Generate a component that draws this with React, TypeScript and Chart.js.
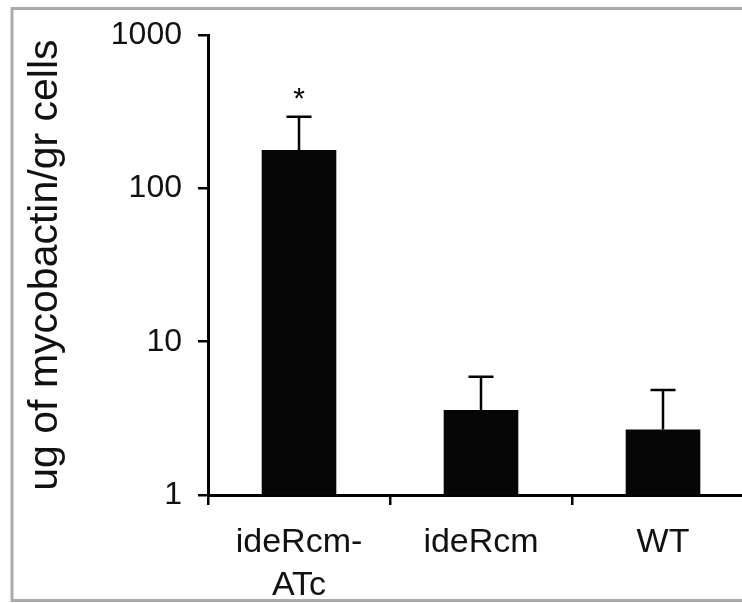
import React, { useEffect, useRef } from "react";
import { Chart, registerables } from "chart.js";

Chart.register(...registerables);

const categories: (string | string[])[] = [["ideRcm-", "ATc"], "ideRcm", "WT"];
const meanValues = [178, 3.58, 2.68];
const errorUpper = [294, 5.9, 4.84];
const significance = ["*", "", ""];
const yTickValues = [1, 10, 100, 1000];
const yTitle = "ug of mycobactin/gr cells";

const FONT = "'Liberation Sans', Arial, Helvetica, sans-serif";

const errorBarPlugin = {
  id: "errorBars",
  afterDatasetsDraw(chart: any) {
    const meta = chart.getDatasetMeta(0);
    const yScale = chart.scales.y;
    const ctx = chart.ctx;
    ctx.save();
    ctx.strokeStyle = "#000";
    ctx.lineWidth = 2.5;
    meta.data.forEach((bar: any, i: number) => {
      const x = bar.x;
      const yTop = yScale.getPixelForValue(errorUpper[i]);
      const yBase = bar.y;
      ctx.beginPath();
      ctx.moveTo(x, yBase);
      ctx.lineTo(x, yTop);
      ctx.moveTo(x - 12.5, yTop);
      ctx.lineTo(x + 12.5, yTop);
      ctx.stroke();
      if (significance[i]) {
        ctx.fillStyle = "#000";
        ctx.font = `30px ${FONT}`;
        ctx.textAlign = "center";
        ctx.textBaseline = "alphabetic";
        ctx.fillText(significance[i], x, yTop - 9);
      }
    });
    ctx.restore();
  },
};

const framePlugin = {
  id: "frame",
  beforeDraw(chart: any) {
    const ctx = chart.ctx;
    ctx.save();
    ctx.fillStyle = "#fff";
    ctx.fillRect(0, 0, chart.width, chart.height);
    ctx.restore();
  },
  afterDraw(chart: any) {
    const ctx = chart.ctx;
    ctx.save();
    ctx.strokeStyle = "#ababab";
    ctx.lineWidth = 3;
    ctx.strokeRect(12, 8.5, 900, 592);
    ctx.restore();
  },
};

export default function App() {
  const canvasRef = useRef<HTMLCanvasElement | null>(null);

  useEffect(() => {
    if (!canvasRef.current) return;
    const chart = new Chart(canvasRef.current, {
      type: "bar",
      data: {
        labels: categories,
        datasets: [
          {
            data: meanValues,
            backgroundColor: "#050505",
            borderWidth: 0,
            barPercentage: 0.41,
            categoryPercentage: 1,
          },
        ],
      },
      options: {
        responsive: false,
        animation: false,
        devicePixelRatio: 1,
        layout: { padding: { left: 21, top: 35, right: 8, bottom: 0 } },
        plugins: {
          legend: { display: false },
          tooltip: { enabled: false },
        },
        scales: {
          x: {
            type: "category",
            offset: true,
            grid: {
              offset: true,
              drawOnChartArea: false,
              drawTicks: true,
              tickLength: 10,
              color: "#000",
              lineWidth: 2.5,
            },
            border: { display: true, color: "#000", width: 3 },
            ticks: {
              color: "#111",
              font: { family: FONT, size: 34, lineHeight: 1.26 },
              padding: 16,
              maxRotation: 0,
              autoSkip: false,
            },
            afterFit(scale: any) {
              scale.height = 108;
            },
          },
          y: {
            type: "logarithmic",
            min: 1,
            max: 1000,
            grid: {
              drawOnChartArea: false,
              drawTicks: true,
              tickLength: 10,
              color: "#000",
              lineWidth: 2.5,
            },
            border: { display: true, color: "#000", width: 3 },
            ticks: {
              color: "#111",
              font: { family: FONT, size: 32 },
              padding: 16,
              callback: (v: any) => String(v),
            },
            afterBuildTicks(scale: any) {
              scale.ticks = yTickValues.map((v) => ({ value: v }));
            },
            afterFit(scale: any) {
              scale.width = 187;
            },
            title: {
              display: true,
              text: yTitle,
              color: "#111",
              font: { family: FONT, size: 41 },
              padding: { top: 0, bottom: 0 },
            },
          },
        },
      },
      plugins: [framePlugin, errorBarPlugin],
    });
    return () => chart.destroy();
  }, []);

  return (
    <div
      style={{
        position: "fixed",
        left: 0,
        top: 0,
        width: 742,
        height: 603,
        overflow: "hidden",
        background: "#fff",
      }}
    >
      <canvas ref={canvasRef} width={762} height={603} style={{ display: "block" }} />
    </div>
  );
}
